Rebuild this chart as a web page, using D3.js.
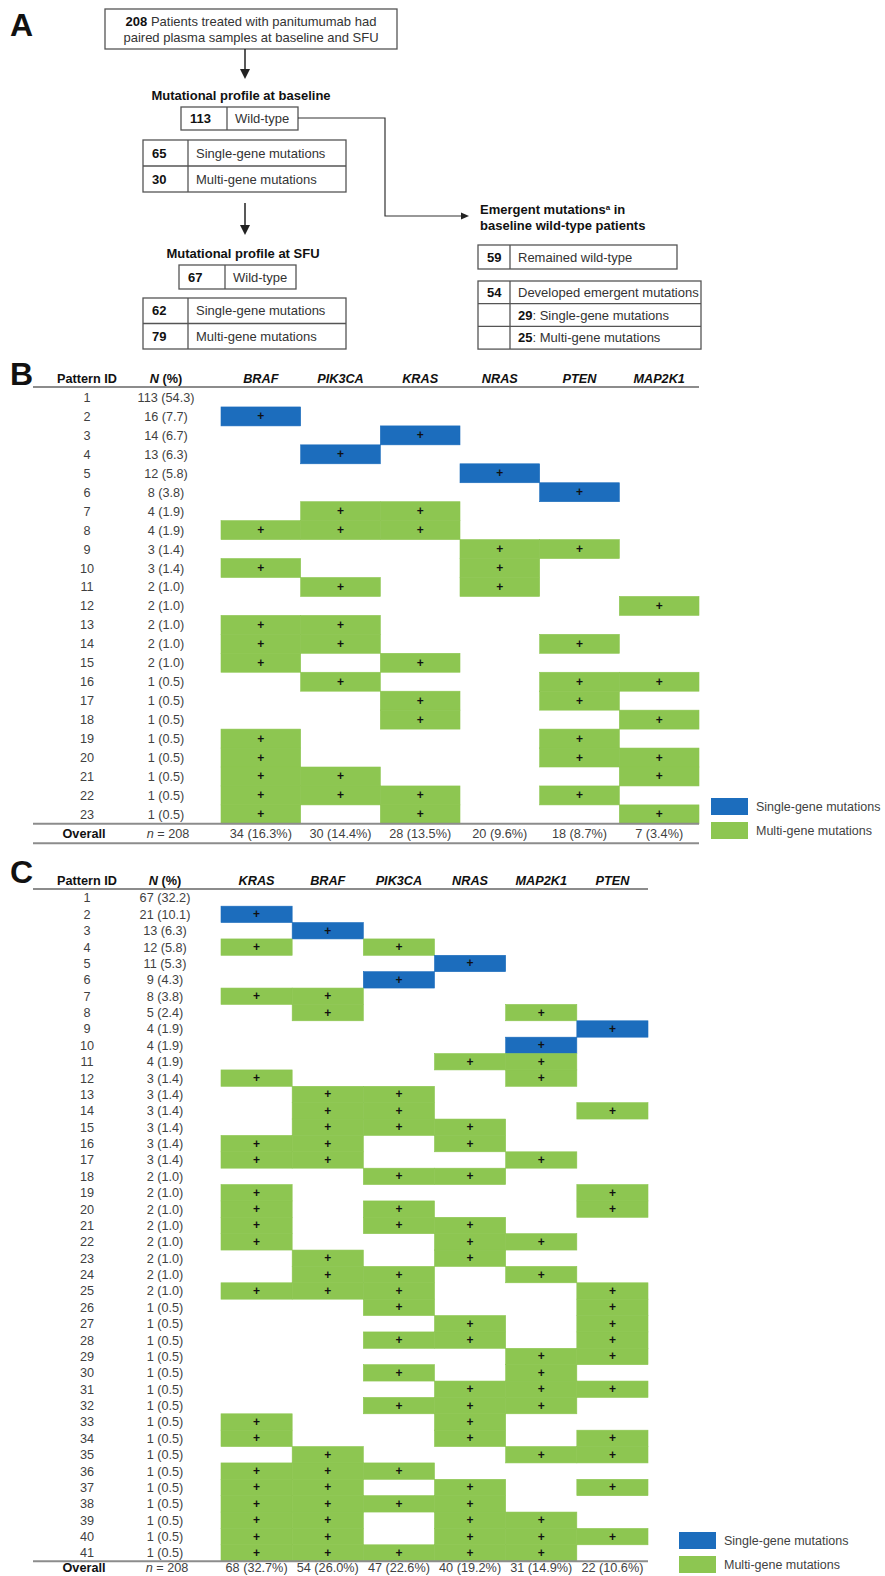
<!DOCTYPE html>
<html>
<head>
<meta charset="utf-8">
<script src="https://cdn.jsdelivr.net/npm/d3@7"></script>
<style>
  body { margin: 0; background: #fff; }
  svg { display: block; }
  text { font-family: "Liberation Sans", Arial, Helvetica, sans-serif; }
</style>
</head>
<body>
<script>
// ---------------- Panel A: patient flow ----------------
const totalPatients = 208;
const baselineWildType = 113;
const baselineMutations = [65, 30];           // single-gene, multi-gene
const sfuWildType = 67;
const sfuMutations = [62, 79];                // single-gene, multi-gene
const emergentRemained = 59;
const emergentDeveloped = [54, 29, 25];       // total, single-gene, multi-gene
const mutationTypeLabels = ["Single-gene mutations", "Multi-gene mutations"];

// ---------------- Panel B: baseline patterns ----------------
const genesB = ["BRAF", "PIK3CA", "KRAS", "NRAS", "PTEN", "MAP2K1"];
const countsB = [113, 16, 14, 13, 12, 8, 4, 4, 3, 3, 2, 2, 2, 2, 2, 1, 1, 1, 1, 1, 1, 1, 1];
const pctB = [54.3, 7.7, 6.7, 6.3, 5.8, 3.8, 1.9, 1.9, 1.4, 1.4, 1.0, 1.0, 1.0, 1.0, 1.0,
              0.5, 0.5, 0.5, 0.5, 0.5, 0.5, 0.5, 0.5];
const typesB = ["none", "single", "single", "single", "single", "single",
                "multi", "multi", "multi", "multi", "multi", "multi", "multi", "multi", "multi",
                "multi", "multi", "multi", "multi", "multi", "multi", "multi", "multi"];
const patternsB = [
  [],
  ["BRAF"],
  ["KRAS"],
  ["PIK3CA"],
  ["NRAS"],
  ["PTEN"],
  ["PIK3CA", "KRAS"],
  ["BRAF", "PIK3CA", "KRAS"],
  ["NRAS", "PTEN"],
  ["BRAF", "NRAS"],
  ["PIK3CA", "NRAS"],
  ["MAP2K1"],
  ["BRAF", "PIK3CA"],
  ["BRAF", "PIK3CA", "PTEN"],
  ["BRAF", "KRAS"],
  ["PIK3CA", "PTEN", "MAP2K1"],
  ["KRAS", "PTEN"],
  ["KRAS", "MAP2K1"],
  ["BRAF", "PTEN"],
  ["BRAF", "PTEN", "MAP2K1"],
  ["BRAF", "PIK3CA", "MAP2K1"],
  ["BRAF", "PIK3CA", "KRAS", "PTEN"],
  ["BRAF", "KRAS", "MAP2K1"]
];
const overallB = [34, 30, 28, 20, 18, 7];
const overallPctB = [16.3, 14.4, 13.5, 9.6, 8.7, 3.4];

// ---------------- Panel C: SFU patterns ----------------
const genesC = ["KRAS", "BRAF", "PIK3CA", "NRAS", "MAP2K1", "PTEN"];
const countsC = [67, 21, 13, 12, 11, 9, 8, 5, 4, 4, 4, 3, 3, 3, 3, 3, 3,
                 2, 2, 2, 2, 2, 2, 2, 2,
                 1, 1, 1, 1, 1, 1, 1, 1, 1, 1, 1, 1, 1, 1, 1, 1];
const pctC = [32.2, 10.1, 6.3, 5.8, 5.3, 4.3, 3.8, 2.4, 1.9, 1.9, 1.9, 1.4, 1.4, 1.4, 1.4, 1.4, 1.4,
              1.0, 1.0, 1.0, 1.0, 1.0, 1.0, 1.0, 1.0,
              0.5, 0.5, 0.5, 0.5, 0.5, 0.5, 0.5, 0.5, 0.5, 0.5, 0.5, 0.5, 0.5, 0.5, 0.5, 0.5];
const typesC = ["none", "single", "single", "multi", "single", "single", "multi", "multi",
                "single", "single", "multi", "multi", "multi", "multi", "multi", "multi", "multi",
                "multi", "multi", "multi", "multi", "multi", "multi", "multi", "multi",
                "multi", "multi", "multi", "multi", "multi", "multi", "multi", "multi",
                "multi", "multi", "multi", "multi", "multi", "multi", "multi", "multi"];
const patternsC = [
  [],
  ["KRAS"],
  ["BRAF"],
  ["KRAS", "PIK3CA"],
  ["NRAS"],
  ["PIK3CA"],
  ["KRAS", "BRAF"],
  ["BRAF", "MAP2K1"],
  ["PTEN"],
  ["MAP2K1"],
  ["NRAS", "MAP2K1"],
  ["KRAS", "MAP2K1"],
  ["BRAF", "PIK3CA"],
  ["BRAF", "PIK3CA", "PTEN"],
  ["BRAF", "PIK3CA", "NRAS"],
  ["KRAS", "BRAF", "NRAS"],
  ["KRAS", "BRAF", "MAP2K1"],
  ["PIK3CA", "NRAS"],
  ["KRAS", "PTEN"],
  ["KRAS", "PIK3CA", "PTEN"],
  ["KRAS", "PIK3CA", "NRAS"],
  ["KRAS", "NRAS", "MAP2K1"],
  ["BRAF", "NRAS"],
  ["BRAF", "PIK3CA", "MAP2K1"],
  ["KRAS", "BRAF", "PIK3CA", "PTEN"],
  ["PIK3CA", "PTEN"],
  ["NRAS", "PTEN"],
  ["PIK3CA", "NRAS", "PTEN"],
  ["MAP2K1", "PTEN"],
  ["PIK3CA", "MAP2K1"],
  ["NRAS", "MAP2K1", "PTEN"],
  ["PIK3CA", "NRAS", "MAP2K1"],
  ["KRAS", "NRAS"],
  ["KRAS", "NRAS", "PTEN"],
  ["BRAF", "MAP2K1", "PTEN"],
  ["KRAS", "BRAF", "PIK3CA"],
  ["KRAS", "BRAF", "NRAS", "PTEN"],
  ["KRAS", "BRAF", "PIK3CA", "NRAS"],
  ["KRAS", "BRAF", "NRAS", "MAP2K1"],
  ["KRAS", "BRAF", "NRAS", "MAP2K1", "PTEN"],
  ["KRAS", "BRAF", "PIK3CA", "NRAS", "MAP2K1"]
];
const overallC = [68, 54, 47, 40, 31, 22];
const overallPctC = [32.7, 26.0, 22.6, 19.2, 14.9, 10.6];

// ---------------- drawing ----------------
const W = 885, H = 1576;
const color = d3.scaleOrdinal()
  .domain(["single", "multi"])
  .range(["#1c6dbd", "#8dc651"]);
const textGrey = "#3f3f3f";
const ruleGrey = "#8c8c8c";

const svg = d3.select("body").append("svg")
  .attr("width", W).attr("height", H)
  .attr("viewBox", `0 0 ${W} ${H}`);

function panelLetter(label, x, y) {
  svg.append("text").attr("x", x).attr("y", y)
    .attr("font-size", 32).attr("font-weight", "bold").attr("fill", "#111")
    .text(label);
}

// text made of [string, bold] segments
function richText(parent, x, y, segments, opts = {}) {
  const t = parent.append("text").attr("x", x).attr("y", y)
    .attr("font-size", opts.size || 13)
    .attr("text-anchor", opts.anchor || "start")
    .attr("fill", opts.fill || "#333");
  segments.forEach(([s, bold, extra]) => {
    const ts = t.append("tspan").text(s);
    if (bold) ts.attr("font-weight", "bold").attr("fill", "#111");
    if (extra === "sup") ts.attr("font-size", 8).attr("baseline-shift", "super");
  });
  return t;
}

function arrowDown(x, y0, y1) {
  svg.append("line").attr("x1", x).attr("x2", x).attr("y1", y0).attr("y2", y1 - 8)
    .attr("stroke", "#222").attr("stroke-width", 1.5);
  svg.append("path").attr("d", `M${x - 5},${y1 - 10}L${x + 5},${y1 - 10}L${x},${y1}Z`).attr("fill", "#222");
}

// boxed table: rows of [leftSegments, rightSegments]
function flowBox(x, y, w, rowH, divX, rows) {
  const g = svg.append("g");
  const h = rowH * rows.length;
  g.append("rect").attr("x", x).attr("y", y).attr("width", w).attr("height", h)
    .attr("fill", "none").attr("stroke", "#555").attr("stroke-width", 1.3);
  g.append("line").attr("x1", divX).attr("x2", divX).attr("y1", y).attr("y2", y + h)
    .attr("stroke", "#555").attr("stroke-width", 1.3);
  rows.forEach((r, i) => {
    if (i > 0) {
      g.append("line").attr("x1", x).attr("x2", x + w).attr("y1", y + i * rowH).attr("y2", y + i * rowH)
        .attr("stroke", "#555").attr("stroke-width", 1.3);
    }
    const base = y + i * rowH + rowH / 2 + 4.6;
    if (r[0].length) richText(g, x + 9, base, r[0]);
    richText(g, divX + 8, base, r[1]);
  });
}

// ---- Panel A ----
panelLetter("A", 10, 36);
svg.append("rect").attr("x", 105).attr("y", 9).attr("width", 292).attr("height", 40)
  .attr("fill", "none").attr("stroke", "#555").attr("stroke-width", 1.3);
richText(svg, 251, 26, [[String(totalPatients), true], [" Patients treated with panitumumab had", false]], { anchor: "middle" });
richText(svg, 251, 42, [["paired plasma samples at baseline and SFU", false]], { anchor: "middle" });
arrowDown(245, 49, 79);

richText(svg, 241, 100, [["Mutational profile at baseline", true]], { anchor: "middle" });
flowBox(181, 107, 117, 23, 227, [[[[String(baselineWildType), true]], [["Wild-type", false]]]]);
flowBox(143, 140, 203, 26, 188, baselineMutations.map((n, i) =>
  [[[String(n), true]], [[mutationTypeLabels[i], false]]]));

// connector from baseline wild-type to emergent mutations
svg.append("path").attr("d", "M298,118H385V216H462")
  .attr("fill", "none").attr("stroke", "#333").attr("stroke-width", 1.2);
svg.append("path").attr("d", "M469,216L461,212.5L461,219.5Z").attr("fill", "#222");

arrowDown(245, 203, 235);
richText(svg, 243, 258, [["Mutational profile at SFU", true]], { anchor: "middle" });
flowBox(179, 265, 117, 24, 225, [[[[String(sfuWildType), true]], [["Wild-type", false]]]]);
flowBox(143, 298, 203, 25.5, 188, sfuMutations.map((n, i) =>
  [[[String(n), true]], [[mutationTypeLabels[i], false]]]));

richText(svg, 480, 214, [["Emergent mutations", true], ["a", true, "sup"], [" in", true]]);
richText(svg, 480, 230, [["baseline wild-type patients", true]]);
flowBox(478, 245, 199, 24, 510, [[[[String(emergentRemained), true]], [["Remained wild-type", false]]]]);
flowBox(478, 281, 223, 22.7, 510, [
  [[[String(emergentDeveloped[0]), true]], [["Developed emergent mutations", false]]],
  [[], [[String(emergentDeveloped[1]), true], [": " + mutationTypeLabels[0], false]]],
  [[], [[String(emergentDeveloped[2]), true], [": " + mutationTypeLabels[1], false]]]
]);

// ---- Panels B and C: pattern tables ----
function drawTable(cfg) {
  const g = svg.append("g");
  const rows = cfg.counts.map((n, i) => ({
    id: i + 1, n, pct: cfg.pct[i], genes: cfg.patterns[i], type: cfg.types[i]
  }));
  const x = d3.scaleBand().domain(cfg.genes).range([cfg.x0, cfg.x1]);
  const y = d3.scaleBand().domain(rows.map(r => r.id))
    .range([cfg.top, cfg.top + rows.length * cfg.rowH]);
  const fs = 12.7;
  const mid = v => y(v) + y.bandwidth() / 2 + 4.5;

  panelLetter(cfg.letter, 10, cfg.letterY);

  // header
  const hdr = g.append("g").attr("font-size", fs).attr("font-weight", "bold").attr("fill", "#111")
    .attr("text-anchor", "middle");
  hdr.append("text").attr("x", cfg.idX).attr("y", cfg.headerY).text("Pattern ID");
  const nh = hdr.append("text").attr("x", cfg.nX).attr("y", cfg.headerY);
  nh.append("tspan").attr("font-style", "italic").text("N");
  nh.append("tspan").text(" (%)");
  hdr.selectAll("text.gene").data(cfg.genes).join("text").attr("class", "gene")
    .attr("x", d => x(d) + x.bandwidth() / 2).attr("y", cfg.headerY)
    .attr("font-style", "italic").text(d => d);
  g.append("line").attr("x1", 33).attr("x2", cfg.x1)
    .attr("y1", cfg.headerY + 4).attr("y2", cfg.headerY + 4)
    .attr("stroke", ruleGrey).attr("stroke-width", 2);

  // mutation cells
  const cells = rows.flatMap(r => r.genes.map(gn => ({ row: r.id, gene: gn, type: r.type })));
  g.append("g").selectAll("rect").data(cells).join("rect")
    .attr("x", d => x(d.gene)).attr("y", d => y(d.row))
    .attr("width", x.bandwidth()).attr("height", y.bandwidth())
    .attr("fill", d => color(d.type))
    .attr("stroke", d => color(d.type)).attr("stroke-width", 0.6);
  g.append("g").selectAll("text").data(cells).join("text")
    .attr("x", d => x(d.gene) + x.bandwidth() / 2).attr("y", d => mid(d.row) - 0.5)
    .attr("text-anchor", "middle").attr("font-size", 12).attr("font-weight", "bold").attr("fill", "#111")
    .text("+");

  // row labels
  const lab = g.append("g").attr("font-size", fs).attr("fill", textGrey).attr("text-anchor", "middle");
  lab.selectAll("text.id").data(rows).join("text").attr("class", "id")
    .attr("x", cfg.idX).attr("y", d => mid(d.id)).text(d => d.id);
  lab.selectAll("text.n").data(rows).join("text").attr("class", "n")
    .attr("x", cfg.nX).attr("y", d => mid(d.id)).text(d => `${d.n} (${d.pct.toFixed(1)})`);

  // overall row
  const bottom = cfg.top + rows.length * cfg.rowH;
  g.append("line").attr("x1", 33).attr("x2", cfg.x1).attr("y1", bottom).attr("y2", bottom)
    .attr("stroke", ruleGrey).attr("stroke-width", 2);
  const oy = bottom + cfg.overallDy;
  lab.append("text").attr("x", cfg.idX - 3).attr("y", oy).attr("font-weight", "bold").attr("fill", "#111")
    .text("Overall");
  const nt = lab.append("text").attr("x", cfg.nX + 2).attr("y", oy);
  nt.append("tspan").attr("font-style", "italic").text("n");
  nt.append("tspan").text(" = " + cfg.counts.reduce((a, b) => a + b, 0));
  lab.selectAll("text.tot").data(cfg.genes).join("text").attr("class", "tot")
    .attr("x", d => x(d) + x.bandwidth() / 2).attr("y", oy)
    .text((d, i) => `${cfg.overall[i]} (${cfg.overallPct[i].toFixed(1)}%)`);
  g.append("line").attr("x1", 33).attr("x2", cfg.x1).attr("y1", bottom + 19.5).attr("y2", bottom + 19.5)
    .attr("stroke", ruleGrey).attr("stroke-width", 2);

  // legend
  const lg = g.append("g").attr("transform", `translate(${cfg.legendX},${cfg.legendY})`);
  lg.selectAll("rect").data(color.domain()).join("rect")
    .attr("x", 0).attr("y", (d, i) => i * 24).attr("width", 37).attr("height", 17)
    .attr("fill", d => color(d));
  lg.selectAll("text").data(mutationTypeLabels).join("text")
    .attr("x", 45).attr("y", (d, i) => i * 24 + 13).attr("font-size", 12.5).attr("fill", textGrey)
    .text(d => d);
}

drawTable({
  letter: "B", letterY: 385, headerY: 383,
  genes: genesB, counts: countsB, pct: pctB, types: typesB, patterns: patternsB,
  overall: overallB, overallPct: overallPctB,
  x0: 221, x1: 699, top: 388, rowH: 18.95, idX: 87, nX: 166, overallDy: 14,
  legendX: 711, legendY: 798
});

drawTable({
  letter: "C", letterY: 883, headerY: 885,
  genes: genesC, counts: countsC, pct: pctC, types: typesC, patterns: patternsC,
  overall: overallC, overallPct: overallPctC,
  x0: 221, x1: 648, top: 889.8, rowH: 16.375, idX: 87, nX: 165, overallDy: 10.5,
  legendX: 679, legendY: 1532
});
</script>
</body>
</html>
